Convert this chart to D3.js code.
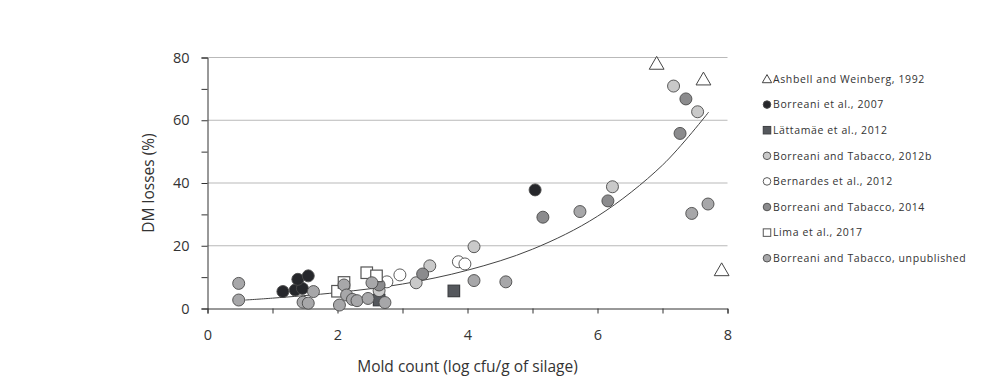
<!DOCTYPE html>
<html>
<head>
<meta charset="utf-8">
<script src="https://cdn.jsdelivr.net/npm/d3@7"></script>
<style>
  body { margin: 0; background: #fff; }
  text { font-family: "Open Sans", "Noto Sans", sans-serif; }
</style>
</head>
<body>
<svg id="chart" width="1005" height="384"></svg>
<script>
// data: [mold count log cfu/g, DM losses %]
const ashbell = [[6.91, 78.1], [7.63, 73.1], [7.91, 12.3]];
const borreani2007 = [[1.16, 5.4], [1.35, 5.9], [1.46, 6.4], [1.39, 9.3], [1.55, 10.4], [5.04, 37.8]];
const lattamae = [[2.64, 2.7], [3.79, 5.6]];
const borreani2012b = [[7.17, 70.9], [7.54, 62.7], [6.23, 38.8], [4.10, 19.7], [3.42, 13.6], [3.21, 8.2], [2.64, 5.7]];
const bernardes = [[2.76, 8.5], [2.96, 10.7], [3.86, 14.9], [3.96, 14.2]];
const borreani2014 = [[7.36, 66.8], [7.27, 55.8], [6.16, 34.3], [5.16, 29.1], [3.31, 11.0], [2.64, 7.5]];
const lima = [[2.0, 5.5], [2.1, 8.3], [2.45, 11.4], [2.60, 10.4]];
const unpublished = [[0.48, 8.0], [0.48, 2.7], [1.63, 5.4], [1.47, 2.0], [1.55, 1.7], [2.03, 1.1],
  [2.10, 7.5], [2.14, 4.3], [2.23, 2.9], [2.30, 2.5], [2.47, 3.2], [2.53, 8.2], [2.73, 1.9],
  [4.10, 8.9], [4.59, 8.5], [5.73, 30.9], [7.45, 30.3], [7.70, 33.3]];

// exponential trend line, read at a few x positions
const trendX = [0.58, 1, 2, 3, 4, 5, 6, 7, 7.71];
const trendY = [2.7, 3.3, 5.1, 7.8, 12.2, 18.9, 29.4, 45.7, 62.6];

const xTicks = [0, 2, 4, 6, 8];
const yTicks = [0, 20, 40, 60, 80];

const series = [
  {name: "Ashbell and Weinberg, 1992", data: ashbell, shape: "tri", fill: "#fff"},
  {name: "Borreani et al., 2007", data: borreani2007, shape: "circle", fill: "#26272b"},
  {name: "Lättamäe et al., 2012", data: lattamae, shape: "square", fill: "#55585d"},
  {name: "Borreani and Tabacco, 2012b", data: borreani2012b, shape: "circle", fill: "#c9c9c9"},
  {name: "Bernardes et al., 2012", data: bernardes, shape: "circle", fill: "#fff"},
  {name: "Borreani and Tabacco, 2014", data: borreani2014, shape: "circle", fill: "#8b8b8d"},
  {name: "Lima et al., 2017", data: lima, shape: "square", fill: "#fff"},
  {name: "Borreani and Tabacco, unpublished", data: unpublished, shape: "circle", fill: "#a7a7a9"}
];

const svg = d3.select("#chart");
const x = d3.scaleLinear().domain([0, 8]).range([207.5, 727.5]);
const y = d3.scaleLinear().domain([0, 80]).range([308.5, 57.5]);

// gridlines
svg.append("g")
  .selectAll("line")
  .data(yTicks.filter(d => d > 0))
  .enter().append("line")
  .attr("x1", x(0)).attr("x2", x(8))
  .attr("y1", d => y(d)).attr("y2", d => y(d))
  .attr("stroke", "#b9b9b9").attr("stroke-width", 1);

// axes
const yAxis = svg.append("g")
  .attr("transform", `translate(${x(0)},0)`)
  .call(d3.axisLeft(y).tickValues(d3.range(0, 81, 10)).tickSize(6)
    .tickFormat(d => yTicks.includes(d) ? d : ""));
const xAxis = svg.append("g")
  .attr("transform", `translate(0,${y(0)})`)
  .call(d3.axisBottom(x).tickValues(d3.range(0, 9, 1)).tickSize(5)
    .tickFormat(d => xTicks.includes(d) ? d : ""));

[xAxis, yAxis].forEach(a => {
  a.select(".domain").attr("stroke", "#333");
  a.selectAll(".tick line").attr("stroke", "#333");
  a.selectAll(".tick text").attr("fill", "#333").attr("font-size", 14.5)
    .attr("font-family", "Open Sans, sans-serif");
});
yAxis.selectAll(".tick text").attr("dx", "-9");
xAxis.selectAll(".tick text").attr("dy", "1.6em");

// axis titles
svg.append("text")
  .attr("x", x(4)).attr("y", 372)
  .attr("text-anchor", "middle").attr("font-size", 15.5).attr("fill", "#333")
  .text("Mold count (log cfu/g of silage)");
svg.append("text")
  .attr("transform", `translate(154,${y(40)}) rotate(-90)`)
  .attr("text-anchor", "middle").attr("font-size", 15.5).attr("fill", "#333")
  .text("DM losses (%)");

// trend line
const line = d3.line().x(d => x(d[0])).y(d => y(d[1])).curve(d3.curveCatmullRom);
svg.append("path")
  .datum(trendX.map((v, i) => [v, trendY[i]]))
  .attr("d", line)
  .attr("fill", "none").attr("stroke", "#444").attr("stroke-width", 1);

const tri = d3.symbol().type(d3.symbolTriangle);

function drawMark(g, s, px, py, big) {
  const stroke = "#4a4a4a";
  if (s.shape === "circle") {
    g.append("circle").attr("cx", px).attr("cy", py).attr("r", big ? 6 : 3.8)
      .attr("fill", s.fill).attr("stroke", stroke).attr("stroke-width", 0.9);
  } else if (s.shape === "square") {
    const h = big ? 11.5 : 7.5;
    g.append("rect").attr("x", px - h / 2).attr("y", py - h / 2)
      .attr("width", h).attr("height", h)
      .attr("fill", s.fill).attr("stroke", s.fill === "#fff" ? "#555" : "#3c3e42")
      .attr("stroke-width", big ? 1.2 : 1);
  } else {
    g.append("path").attr("d", tri.size(big ? 95 : 38)())
      .attr("transform", `translate(${px},${py + (big ? 1.5 : 1)})`)
      .attr("fill", "#fff").attr("stroke", "#444").attr("stroke-width", 1);
  }
}

// points
const pts = svg.append("g");
series.forEach(s => {
  s.data.forEach(d => drawMark(pts, s, x(d[0]), y(d[1]), true));
});

// legend
const legend = svg.append("g");
series.forEach((s, i) => {
  const ly = 79 + i * 25.6;
  drawMark(legend, s, 767, ly, false);
  legend.append("text")
    .attr("x", 773).attr("y", ly + 3.7)
    .attr("font-size", 10.5).attr("letter-spacing", 0.6).attr("fill", "#333")
    .text(s.name);
});
</script>
</body>
</html>
